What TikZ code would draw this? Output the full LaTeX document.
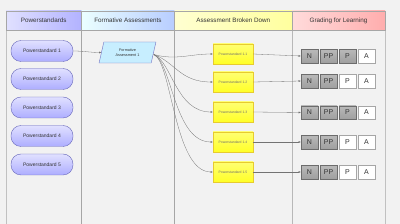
\documentclass[tikz,border=0pt]{standalone}
\usepackage{fontspec}
\setmainfont{Liberation Sans}
\usetikzlibrary{shapes.geometric,arrows.meta}
\definecolor{bg}{HTML}{F2F2F2}
\definecolor{lanec}{HTML}{A6A6A6}
\definecolor{txt}{HTML}{333333}
\tikzset{
  hdr/.style={draw=lanec, line width=0.6pt, minimum height=19pt, inner sep=0pt, text=txt, font=\fontsize{6.3}{7}\selectfont},
  psnode/.style={draw=black!45!blue!60!white, line width=0.4pt, rounded corners=10pt, minimum width=62pt, minimum height=21pt, inner sep=0pt, top color=blue!12!white, bottom color=blue!32!white, text=txt, font=\fontsize{5}{6}\selectfont},
  fanode/.style={trapezium, trapezium left angle=72, trapezium right angle=108, trapezium stretches=true, minimum width=57pt, minimum height=21pt, inner sep=0pt, draw=blue!40!gray!80, line width=0.4pt, fill=blue!30!cyan!22!white, text=txt, font=\fontsize{3.8}{4.6}\selectfont, align=center},
  ynode/.style={draw=yellow!60!brown, line width=0.4pt, minimum width=40pt, minimum height=20pt, inner sep=0pt, top color=yellow!55!white, bottom color=yellow!85!white, text=txt!70!white, font=\fontsize{3.4}{4}\selectfont},
  gbox/.style={draw=gray!85!black, line width=0.4pt, minimum width=17pt, minimum height=13.5pt, inner sep=0pt, top color=gray!55!white, bottom color=gray!75!white, text=txt, font=\fontsize{7}{8}\selectfont},
  wbox/.style={draw=gray!70, line width=0.4pt, minimum width=17pt, minimum height=13.5pt, inner sep=0pt, fill=white, text=txt, font=\fontsize{7}{8}\selectfont},
  arr/.style={draw=black!55, line width=0.3pt, -{Latex[length=2.2pt,width=2pt]}}
}
\begin{document}
\begin{tikzpicture}[x=1pt,y=-1pt]
\useasboundingbox (0,0) rectangle (400,224);
\fill[bg] (0,0) rectangle (400,224);
% lane bodies
\draw[lanec!70, line width=1pt] (6,30) -- (6,224);
\draw[lanec!70, line width=1pt] (385,30) -- (385,224);
\draw[lanec, line width=0.6pt] (81.5,30) -- (81.5,224);
\draw[lanec, line width=0.6pt] (174.5,30) -- (174.5,224);
\draw[lanec!80, line width=1pt] (292,30) -- (292,224);
% headers
\node[hdr, minimum width=75.5pt, left color=blue!12!white, right color=blue!30!white] (h1) at (43.75,20.5) {Powerstandards};
\node[hdr, minimum width=93pt, left color=cyan!8!white, right color=cyan!30!blue!28!white] (h2) at (128,20.5) {Formative Assessments};
\node[hdr, minimum width=117.5pt, left color=yellow!18!white, right color=yellow!38!white] (h3) at (233.25,20.5) {Assessment Broken Down};
\node[hdr, minimum width=93pt, left color=red!14!white, right color=red!32!white] (h4) at (338.5,20.5) {Grading for Learning};
% powerstandards
\node[psnode] (p1) at (42,51) {Powerstandard 1};
\node[psnode] (p2) at (42,79) {Powerstandard 2};
\node[psnode] (p3) at (42,107.5) {Powerstandard 3};
\node[psnode] (p4) at (42,136) {Powerstandard 4};
\node[psnode] (p5) at (42,164.5) {Powerstandard 5};
% formative
\node[fanode] (fa) at (127.5,52.5) {Formative\\Assessment 1};
% yellow
\node[ynode] (y1) at (233,54) {Powerstandard 1.1};
\node[ynode] (y2) at (233,82) {Powerstandard 1.2};
\node[ynode] (y3) at (233,112) {Powerstandard 1.3};
\node[ynode] (y4) at (233,142) {Powerstandard 1.4};
\node[ynode] (y5) at (233,172) {Powerstandard 1.5};
% grades
\node[gbox] (n1) at (309.5,56) {N};
\node[gbox] (pp1) at (328.5,56) {PP};
\node[gbox] (pa1) at (347.5,56) {P};
\node[wbox] (a1) at (366.5,56) {A};
\node[gbox] (n2) at (309.5,81) {N};
\node[gbox] (pp2) at (328.5,81) {PP};
\node[wbox] (pa2) at (347.5,81) {P};
\node[wbox] (a2) at (366.5,81) {A};
\node[gbox] (n3) at (309.5,112.5) {N};
\node[gbox] (pp3) at (328.5,112.5) {PP};
\node[gbox] (pa3) at (347.5,112.5) {P};
\node[wbox] (a3) at (366.5,112.5) {A};
\node[gbox] (n4) at (309.5,142) {N};
\node[gbox] (pp4) at (328.5,142) {PP};
\node[wbox] (pa4) at (347.5,142) {P};
\node[wbox] (a4) at (366.5,142) {A};
\node[gbox] (n5) at (309.5,172) {N};
\node[gbox] (pp5) at (328.5,172) {PP};
\node[wbox] (pa5) at (347.5,172) {P};
\node[wbox] (a5) at (366.5,172) {A};
% connectors
\draw[arr] (p1.east) to[out=0,in=180] (fa.west);
\coordinate (fo) at ([yshift=-2pt]fa.east);
\draw[arr] (fo) to[out=-15,in=180] (y1.west);
\draw[arr] (fo) .. controls (175,62) and (180,82) .. (y2.west);
\draw[arr] (fo) .. controls (172,62) and (176,112) .. (y3.west);
\draw[arr] (fo) .. controls (172,62) and (174,142) .. (y4.west);
\draw[arr] (fo) .. controls (172,62) and (174,172) .. (y5.west);
\draw[arr] (y1.east) -- (n1.west);
\draw[arr] (y2.east) -- (n2.west);
\draw[arr] (y3.east) -- (n3.west);
\draw[arr] (y4.east) -- (n4.west);
\draw[arr] (y5.east) -- (n5.west);
\end{tikzpicture}
\end{document}
